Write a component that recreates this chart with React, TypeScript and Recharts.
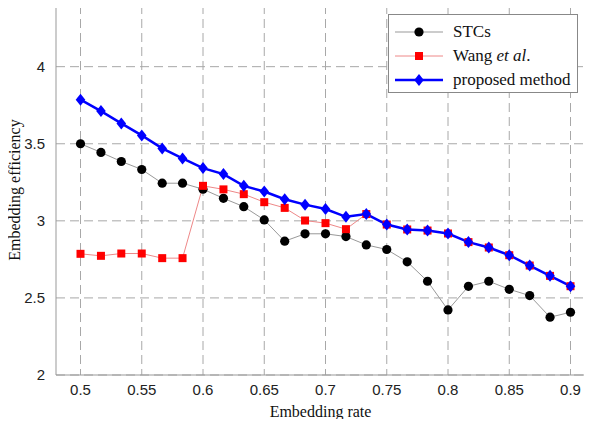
import React from "react";
import {
  LineChart,
  Line,
  XAxis,
  YAxis,
  CartesianGrid,
  ReferenceLine,
} from "recharts";

// embedding rates (x), one point every 1/60
const rates = [
  0.5, 0.5167, 0.5333, 0.55, 0.5667, 0.5833, 0.6, 0.6167, 0.6333, 0.65,
  0.6667, 0.6833, 0.7, 0.7167, 0.7333, 0.75, 0.7667, 0.7833, 0.8, 0.8167,
  0.8333, 0.85, 0.8667, 0.8833, 0.9,
];

const stcs = [
  3.5, 3.444, 3.385, 3.333, 3.244, 3.244, 3.205, 3.146, 3.092, 3.006, 2.868,
  2.916, 2.916, 2.898, 2.844, 2.814, 2.734, 2.608, 2.422, 2.575, 2.608, 2.556,
  2.515, 2.375, 2.407,
];

const wang = [
  2.786, 2.773, 2.788, 2.788, 2.758, 2.758, 3.227, 3.204, 3.173, 3.121, 3.084,
  3.002, 2.985, 2.946, 3.044, 2.976, 2.944, 2.937, 2.918, 2.862, 2.827, 2.777,
  2.71, 2.643, 2.576,
];

const proposed = [
  3.786, 3.712, 3.632, 3.554, 3.47, 3.405, 3.342, 3.303, 3.227, 3.19, 3.14,
  3.105, 3.077, 3.026, 3.044, 2.976, 2.944, 2.937, 2.918, 2.862, 2.827, 2.777,
  2.71, 2.643, 2.576,
];

const xTicks = [0.5, 0.55, 0.6, 0.65, 0.7, 0.75, 0.8, 0.85, 0.9];
const yTicks = [2, 2.5, 3, 3.5, 4];

const data = rates.map((r, i) => ({
  rate: r,
  stcs: stcs[i],
  wang: wang[i],
  proposed: proposed[i],
}));

const serif = "'Liberation Serif', Tinos, 'Times New Roman', 'DejaVu Serif', serif";
const sans = "'Liberation Sans', Arimo, Arial, sans-serif";

const CircleDot = (p: any) =>
  p.cx == null ? null : (
    <circle key={`c${p.index}`} cx={p.cx} cy={p.cy} r={4.6} fill="#000" />
  );

const SquareDot = (p: any) =>
  p.cx == null ? null : (
    <rect
      key={`s${p.index}`}
      x={p.cx - 4}
      y={p.cy - 4}
      width={8}
      height={8}
      fill="#ff0000"
    />
  );

const DiamondDot = (p: any) =>
  p.cx == null ? null : (
    <polygon
      key={`d${p.index}`}
      points={`${p.cx},${p.cy - 6} ${p.cx + 4.8},${p.cy} ${p.cx},${p.cy + 6} ${p.cx - 4.8},${p.cy}`}
      fill="#0000ff"
    />
  );

function LegendBox() {
  const row = (y: number, line: React.ReactNode, text: React.ReactNode) => (
    <div style={{ position: "absolute", left: 0, top: y, height: 24, width: "100%" }}>
      <svg width={60} height={24} style={{ position: "absolute", left: 0, top: 0 }}>
        {line}
      </svg>
      <div
        style={{
          position: "absolute",
          left: 64,
          top: 1,
          fontFamily: serif,
          fontSize: 17,
          lineHeight: "22px",
          color: "#111",
          whiteSpace: "nowrap",
        }}
      >
        {text}
      </div>
    </div>
  );
  return (
    <div
      style={{
        position: "absolute",
        left: 388,
        top: 14,
        width: 190,
        height: 79,
        background: "#fff",
        border: "1px solid #888",
        boxSizing: "border-box",
      }}
    >
      {row(
        5,
        <>
          <line x1={6} y1={12} x2={54} y2={12} stroke="#999" strokeWidth={1} />
          <circle cx={30} cy={12} r={4.6} fill="#000" />
        </>,
        "STCs"
      )}
      {row(
        29,
        <>
          <line x1={6} y1={12} x2={54} y2={12} stroke="#e88" strokeWidth={1} />
          <rect x={26} y={8} width={8} height={8} fill="#ff0000" />
        </>,
        <>
          Wang <i>et al</i>.
        </>
      )}
      {row(
        53,
        <>
          <line x1={6} y1={12} x2={54} y2={12} stroke="#0000ff" strokeWidth={2.5} />
          <polygon points="30,6 34.8,12 30,18 25.2,12" fill="#0000ff" />
        </>,
        "proposed method"
      )}
    </div>
  );
}

export default function App() {
  return (
    <div
      style={{
        position: "relative",
        margin: -8,
        width: 592,
        height: 427,
        overflow: "hidden",
        background: "#fff",
      }}
    >
      <LineChart
        width={600}
        height={427}
        data={data}
        margin={{ top: 5, right: 5, left: 0, bottom: 0 }}
      >
        <CartesianGrid
          stroke="#a8a8a8"
          strokeDasharray="9 5"
          horizontalValues={yTicks}
          verticalValues={xTicks}
        />
        <XAxis
          dataKey="rate"
          type="number"
          domain={[0.48, 0.92]}
          ticks={xTicks}
          height={52}
          stroke="#999"
          tickLine={false}
          tickMargin={3}
          tick={{ fill: "#222", fontSize: 15, fontFamily: sans }}
          tickFormatter={(v: number) => String(v)}
          label={{
            content: ({ viewBox }: any) => (
              <text
                x={viewBox.x + viewBox.width / 2 - 5}
                y={417}
                textAnchor="middle"
                fill="#111"
                fontSize={16}
                fontFamily={serif}
              >
                Embedding rate
              </text>
            ),
          }}
        />
        <YAxis
          type="number"
          domain={[2, 4.4]}
          ticks={yTicks}
          width={56}
          stroke="#999"
          tickLine={false}
          tickMargin={5}
          tick={{ fill: "#222", fontSize: 15, fontFamily: sans }}
          label={{
            content: ({ viewBox }: any) => {
              const cx = viewBox.x + 14;
              const cy = viewBox.y + viewBox.height / 2;
              return (
                <text
                  x={cx}
                  y={cy}
                  transform={`rotate(-90 ${cx} ${cy})`}
                  textAnchor="middle"
                  dominantBaseline="central"
                  fill="#111"
                  fontSize={16}
                  fontFamily={serif}
                >
                  Embedding efficiency
                </text>
              );
            },
          }}
        />
        <ReferenceLine y={4.4} stroke="#999" />
        <Line
          type="linear"
          dataKey="stcs"
          stroke="#999"
          strokeWidth={1}
          dot={CircleDot}
          activeDot={false}
          isAnimationActive={false}
        />
        <Line
          type="linear"
          dataKey="wang"
          stroke="#ee8888"
          strokeWidth={1}
          dot={SquareDot}
          activeDot={false}
          isAnimationActive={false}
        />
        <Line
          type="linear"
          dataKey="proposed"
          stroke="#0000ff"
          strokeWidth={2.5}
          dot={DiamondDot}
          activeDot={false}
          isAnimationActive={false}
        />
      </LineChart>
      <LegendBox />
    </div>
  );
}
